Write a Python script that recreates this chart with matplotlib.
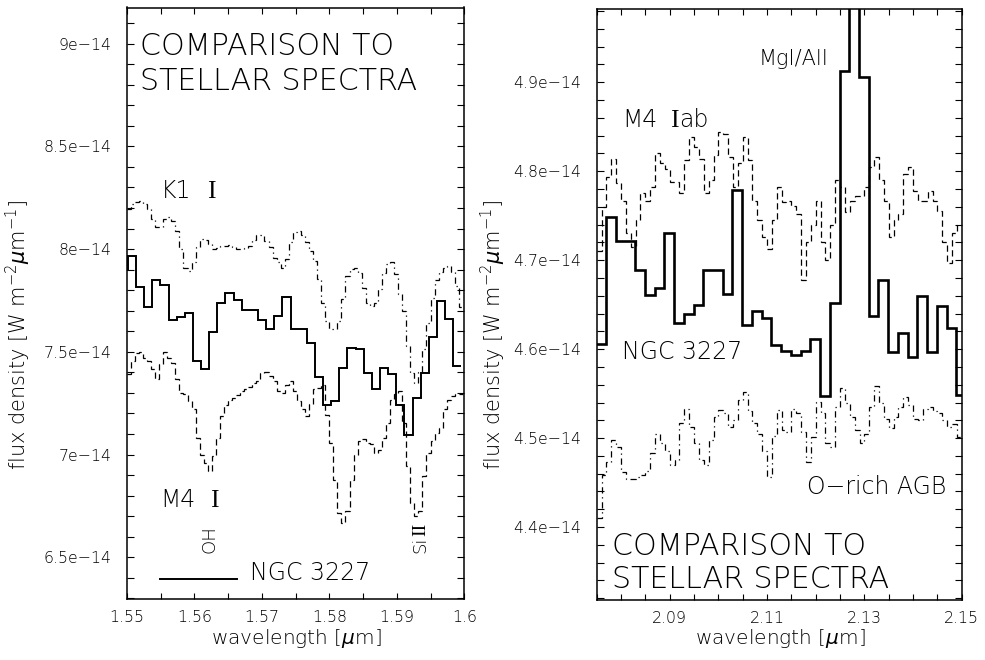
import numpy as np
import matplotlib
matplotlib.use('Agg')
import matplotlib.pyplot as plt
from matplotlib.ticker import FixedLocator, FixedFormatter, MultipleLocator
from matplotlib.lines import Line2D

plt.rcParams['font.family'] = ['DejaVu Sans']
plt.rcParams['font.weight'] = 'light'
plt.rcParams['mathtext.fontset'] = 'custom'
plt.rcParams['mathtext.rm'] = 'DejaVu Sans:light'
plt.rcParams['mathtext.it'] = 'DejaVu Sans:italic:light'
plt.rcParams['mathtext.sf'] = 'DejaVu Sans:light'

UNIT = 1e-14

# ---------------- left panel (H band) ----------------
wl_left_ngc = [1.54956, 1.55076, 1.55197, 1.55317, 1.55438, 1.55558, 1.55679, 1.55799, 1.55920, 1.56040,
               1.56161, 1.56281, 1.56402, 1.56522, 1.56643, 1.56763, 1.56884, 1.57004, 1.57125, 1.57245,
               1.57366, 1.57486, 1.57607, 1.57727, 1.57848, 1.57968, 1.58089, 1.58209, 1.58330, 1.58450,
               1.58571, 1.58691, 1.58812, 1.58932, 1.59053, 1.59173, 1.59294, 1.59414, 1.59535, 1.59655,
               1.59776, 1.59896]
ngc_left = [7.900, 7.967, 7.818, 7.720, 7.849, 7.824, 7.655, 7.672, 7.688, 7.455,
            7.415, 7.597, 7.740, 7.785, 7.753, 7.704, 7.704, 7.655, 7.610, 7.675,
            7.767, 7.610, 7.610, 7.545, 7.377, 7.239, 7.263, 7.423, 7.520, 7.512,
            7.398, 7.317, 7.423, 7.390, 7.240, 7.093, 7.277, 7.395, 7.574, 7.748,
            7.662, 7.431]

wl_left_cmp = [1.5503, 1.5509, 1.5515, 1.5521, 1.5527, 1.5533, 1.5539, 1.5545, 1.5551, 1.5557,
               1.5563, 1.5569, 1.5575, 1.5581, 1.5587, 1.5593, 1.5599, 1.5605, 1.5611, 1.5617,
               1.5623, 1.5629, 1.5635, 1.5641, 1.5647, 1.5653, 1.5659, 1.5665, 1.5671, 1.5677,
               1.5683, 1.5689, 1.5695, 1.5701, 1.5707, 1.5713, 1.5719, 1.5725, 1.5731, 1.5737,
               1.5743, 1.5749, 1.5755, 1.5761, 1.5767, 1.5773, 1.5779, 1.5785, 1.5791, 1.5797,
               1.5803, 1.5809, 1.5815, 1.5821, 1.5827, 1.5833, 1.5839, 1.5845, 1.5851, 1.5857,
               1.5863, 1.5869, 1.5875, 1.5881, 1.5887, 1.5893, 1.5899, 1.5905, 1.5911, 1.5917,
               1.5923, 1.5929, 1.5935, 1.5941, 1.5947, 1.5953, 1.5959, 1.5965, 1.5971, 1.5977,
               1.5983, 1.5989, 1.5995]
m4_I = [7.390, 7.455, 7.496, 7.499, 7.472, 7.455, 7.415, 7.366, 7.439, 7.499,
        7.472, 7.447, 7.366, 7.301, 7.293, 7.260, 7.220, 7.081, 7.000, 6.959,
        6.918, 6.992, 7.081, 7.187, 7.239, 7.268, 7.276, 7.288, 7.309, 7.320,
        7.330, 7.350, 7.358, 7.398, 7.401, 7.382, 7.358, 7.309, 7.301, 7.341,
        7.358, 7.309, 7.260, 7.220, 7.187, 7.244, 7.317, 7.325, 7.341, 7.195,
        7.057, 6.878, 6.715, 6.667, 6.723, 6.878, 7.000, 7.065, 7.076, 7.057,
        7.049, 7.008, 7.024, 7.081, 7.154, 7.268, 7.293, 7.309, 7.154, 6.943,
        6.764, 6.699, 6.723, 6.894, 7.008, 7.065, 7.106, 7.130, 7.220, 7.268,
        7.285, 7.293, 7.293]
k1_I = [8.195, 8.220, 8.228, 8.236, 8.220, 8.195, 8.146, 8.110, 8.110, 8.146,
        8.154, 8.138, 8.089, 8.000, 7.910, 7.894, 7.935, 8.008, 8.049, 8.046,
        8.024, 8.000, 8.003, 8.016, 8.016, 8.020, 8.008, 8.000, 8.000, 8.003,
        8.016, 8.046, 8.068, 8.068, 8.041, 8.008, 7.959, 7.935, 7.910, 7.951,
        8.033, 8.081, 8.089, 8.068, 8.033, 7.992, 7.943, 7.854, 7.740, 7.650,
        7.610, 7.610, 7.650, 7.756, 7.870, 7.902, 7.910, 7.886, 7.813, 7.740,
        7.724, 7.740, 7.805, 7.886, 7.927, 7.938, 7.878, 7.780, 7.700, 7.528,
        7.398, 7.350, 7.400, 7.512, 7.642, 7.760, 7.850, 7.890, 7.910, 7.919,
        7.890, 7.820, 7.720]

left_xlim = (1.55, 1.60)
left_ylim = (6.297, 9.176)
left_xticks = [1.55, 1.56, 1.57, 1.58, 1.59, 1.60]
left_xticklabels = ['1.55', '1.56', '1.57', '1.58', '1.59', '1.6']
left_yticks = [6.5, 7.0, 7.5, 8.0, 8.5, 9.0]
left_yticklabels = ['6.5e\u221214', '7e\u221214', '7.5e\u221214', '8e\u221214', '8.5e\u221214', '9e\u221214']

# ---------------- right panel (K band) ----------------
wl_right_ngc = [2.0759, 2.0779, 2.0799, 2.0819, 2.0839, 2.0859, 2.0879, 2.0899, 2.0919, 2.0939,
                2.0959, 2.0979, 2.0999, 2.1019, 2.1039, 2.1059, 2.1079, 2.1099, 2.1119, 2.1139,
                2.1159, 2.1179, 2.1199, 2.1219, 2.1239, 2.1259, 2.1279, 2.1299, 2.1319, 2.1339,
                2.1359, 2.1379, 2.1399, 2.1419, 2.1439, 2.1459, 2.1479, 2.1499]
ngc_right = [4.606, 4.749, 4.721, 4.721, 4.689, 4.661, 4.669, 4.731, 4.629, 4.639,
             4.650, 4.689, 4.689, 4.662, 4.779, 4.627, 4.643, 4.635, 4.605, 4.598,
             4.593, 4.598, 4.611, 4.547, 4.652, 4.913, 5.050, 4.906, 4.637, 4.678,
             4.597, 4.618, 4.591, 4.660, 4.597, 4.648, 4.624, 4.548]

wl_right_cmp = [2.0755, 2.0765, 2.0775, 2.0785, 2.0795, 2.0805, 2.0815, 2.0825, 2.0835, 2.0845,
                2.0855, 2.0865, 2.0875, 2.0885, 2.0895, 2.0905, 2.0915, 2.0925, 2.0935, 2.0945,
                2.0955, 2.0965, 2.0975, 2.0985, 2.0995, 2.1005, 2.1015, 2.1025, 2.1035, 2.1045,
                2.1055, 2.1065, 2.1075, 2.1085, 2.1095, 2.1105, 2.1115, 2.1125, 2.1135, 2.1145,
                2.1155, 2.1165, 2.1175, 2.1185, 2.1195, 2.1205, 2.1215, 2.1225, 2.1235, 2.1245,
                2.1255, 2.1265, 2.1275, 2.1285, 2.1295, 2.1305, 2.1315, 2.1325, 2.1335, 2.1345,
                2.1355, 2.1365, 2.1375, 2.1385, 2.1395, 2.1405, 2.1415, 2.1425, 2.1435, 2.1445,
                2.1455, 2.1465, 2.1475, 2.1485, 2.1495]
m4_Iab = [4.710, 4.760, 4.794, 4.814, 4.787, 4.767, 4.730, 4.715, 4.745, 4.775,
          4.767, 4.782, 4.820, 4.809, 4.803, 4.788, 4.788, 4.775, 4.813, 4.838,
          4.827, 4.814, 4.775, 4.790, 4.818, 4.844, 4.842, 4.816, 4.782, 4.809,
          4.838, 4.813, 4.767, 4.745, 4.726, 4.713, 4.745, 4.782, 4.765, 4.767,
          4.761, 4.752, 4.678, 4.720, 4.740, 4.767, 4.720, 4.700, 4.740, 4.790,
          4.782, 4.754, 4.767, 4.772, 4.772, 4.782, 4.805, 4.816, 4.790, 4.767,
          4.726, 4.745, 4.752, 4.797, 4.805, 4.778, 4.767, 4.767, 4.778, 4.767,
          4.755, 4.720, 4.697, 4.730, 4.739]
o_rich_agb = [4.410, 4.458, 4.473, 4.498, 4.490, 4.462, 4.454, 4.454, 4.456, 4.458,
              4.463, 4.483, 4.505, 4.494, 4.485, 4.470, 4.475, 4.517, 4.533, 4.513,
              4.494, 4.475, 4.470, 4.498, 4.524, 4.532, 4.528, 4.513, 4.520, 4.543,
              4.552, 4.530, 4.517, 4.505, 4.486, 4.456, 4.502, 4.532, 4.509, 4.507,
              4.533, 4.528, 4.507, 4.473, 4.501, 4.541, 4.528, 4.494, 4.490, 4.535,
              4.556, 4.539, 4.524, 4.509, 4.494, 4.505, 4.535, 4.558, 4.539, 4.522,
              4.511, 4.524, 4.535, 4.546, 4.537, 4.522, 4.520, 4.533, 4.535, 4.531,
              4.528, 4.520, 4.513, 4.516, 4.501]

right_xlim = (2.075, 2.15)
right_ylim = (4.318, 4.982)
right_xticks = [2.09, 2.11, 2.13, 2.15]
right_xticklabels = ['2.09', '2.11', '2.13', '2.15']
right_yticks = [4.4, 4.5, 4.6, 4.7, 4.8, 4.9]
right_yticklabels = ['4.4e\u221214', '4.5e\u221214', '4.6e\u221214', '4.7e\u221214', '4.8e\u221214', '4.9e\u221214']


def edges_from_centers(c):
    c = np.asarray(c, dtype=float)
    mids = (c[:-1] + c[1:]) / 2.0
    first = c[0] - (c[1] - c[0]) / 2.0
    last = c[-1] + (c[-1] - c[-2]) / 2.0
    return np.concatenate([[first], mids, [last]])


def hist_line(ax, wl, vals, **kw):
    ax.stairs(np.asarray(vals) * UNIT, edges_from_centers(wl), baseline=None, **kw)


W, H = 985, 660
fig = plt.figure(figsize=(W / 100, H / 100), dpi=100)
fig.patch.set_facecolor('white')

ax1 = fig.add_axes([126.8 / W, 1 - 599 / H, (464.3 - 126.8) / W, (599 - 7.5) / H])
ax2 = fig.add_axes([596.7 / W, 1 - 600 / H, 365 / W, (600 - 9.3) / H])

# left panel curves
hist_line(ax1, wl_left_cmp, k1_I, color='black', lw=0.9, linestyle=(0, (5, 3, 1, 3)))
hist_line(ax1, wl_left_cmp, m4_I, color='black', lw=0.9, linestyle=(0, (5, 3)))
hist_line(ax1, wl_left_ngc, ngc_left, color='black', lw=1.4)

# right panel curves
hist_line(ax2, wl_right_cmp, m4_Iab, color='black', lw=0.9, linestyle=(0, (5, 3)))
hist_line(ax2, wl_right_cmp, o_rich_agb, color='black', lw=0.9, linestyle=(0, (5, 3, 1, 3)))
hist_line(ax2, wl_right_ngc, ngc_right, color='black', lw=1.9)

tick_fs = 11.3
for ax, xl, yl, xt, xtl, yt, ytl, xminor, yminor in [
        (ax1, left_xlim, left_ylim, left_xticks, left_xticklabels, left_yticks, left_yticklabels, 0.005, 0.1),
        (ax2, right_xlim, right_ylim, right_xticks, right_xticklabels, right_yticks, right_yticklabels, 0.005, 0.02)]:
    ax.set_xlim(*xl)
    ax.set_ylim(yl[0] * UNIT, yl[1] * UNIT)
    ax.xaxis.set_major_locator(FixedLocator(xt))
    ax.xaxis.set_major_formatter(FixedFormatter(xtl))
    ax.xaxis.set_minor_locator(MultipleLocator(xminor))
    ax.yaxis.set_major_locator(FixedLocator([v * UNIT for v in yt]))
    ax.yaxis.set_major_formatter(FixedFormatter(ytl))
    ax.yaxis.set_minor_locator(MultipleLocator(yminor * UNIT))
    ax.tick_params(which='both', direction='in', top=True, right=True, width=0.8, colors='black')
    ax.tick_params(axis='x', which='both', length=4.0, pad=8, labelsize=tick_fs)
    ax.tick_params(axis='y', which='both', length=5.0, pad=11, labelsize=tick_fs)
    for s in ax.spines.values():
        s.set_linewidth(1.1)
        s.set_color('black')

serif = dict(family='Liberation Serif', weight='normal')

# ---- text, left panel
fsT = 21.6
ax1.text(0.040, 0.9197, 'COMPARISON TO', transform=ax1.transAxes, fontsize=fsT, va='baseline', ha='left')
ax1.text(0.040, 0.8605, 'STELLAR SPECTRA', transform=ax1.transAxes, fontsize=fsT, va='baseline', ha='left')
fsL = 17
fsI = 18.5
ax1.text(0.100, 0.6774, 'K1', transform=ax1.transAxes, fontsize=fsL, va='baseline', ha='left')
ax1.text(0.2385, 0.6774, 'I', transform=ax1.transAxes, fontsize=fsI, va='baseline', ha='left', **serif)
ax1.text(0.100, 0.1560, 'M4', transform=ax1.transAxes, fontsize=fsL, va='baseline', ha='left')
ax1.text(0.2465, 0.1560, 'I', transform=ax1.transAxes, fontsize=fsI, va='baseline', ha='left', **serif)
ax1.text(0.2465, 0.1014, 'OH', transform=ax1.transAxes, fontsize=13, rotation=90, ha='center', va='center')
ax1.text(0.8836, 0.0778, 'Si', transform=ax1.transAxes, fontsize=13, rotation=90,
         ha='left', va='baseline', rotation_mode='anchor')
ax1.text(0.8836, 0.1065, 'II', transform=ax1.transAxes, fontsize=14, rotation=90,
         ha='left', va='baseline', rotation_mode='anchor', **serif)
ax1.add_line(Line2D([0.0984, 0.3256], [0.0333, 0.0333], transform=ax1.transAxes, color='black', lw=1.4))
ax1.text(0.366, 0.0321, 'NGC 3227', transform=ax1.transAxes, fontsize=fsL, va='baseline', ha='left')

# ---- text, right panel
ax2.text(0.4427, 0.9057, 'MgI/AlI', transform=ax2.transAxes, fontsize=15, va='baseline', ha='left')
ax2.text(0.0700, 0.8002, 'M4', transform=ax2.transAxes, fontsize=fsL, va='baseline', ha='left')
ax2.text(0.2008, 0.8002, 'I', transform=ax2.transAxes, fontsize=fsI, va='baseline', ha='left', **serif)
ax2.text(0.2270, 0.8002, 'ab', transform=ax2.transAxes, fontsize=fsL, va='baseline', ha='left')
ax2.text(0.0700, 0.4075, 'NGC 3227', transform=ax2.transAxes, fontsize=fsL, va='baseline', ha='left')
ax2.text(0.5770, 0.1789, 'O\u2212rich AGB', transform=ax2.transAxes, fontsize=fsL, va='baseline', ha='left')
ax2.text(0.041, 0.0762, 'COMPARISON TO', transform=ax2.transAxes, fontsize=fsT, va='baseline', ha='left')
ax2.text(0.041, 0.0198, 'STELLAR SPECTRA', transform=ax2.transAxes, fontsize=fsT, va='baseline', ha='left')

# ---- axis labels
ylab = r'flux density [W m$^{\mathsf{-2}}\mu$m$^{\mathsf{-1}}$]'
xlab = r'wavelength [$\mu$m]'
fig.text(18 / W, 1 - 335 / H, ylab, rotation=90, ha='center', va='center', fontsize=15)
fig.text(493 / W, 1 - 335 / H, ylab, rotation=90, ha='center', va='center', fontsize=15)
fig.text(296 / W, 1 - 639 / H, xlab, ha='center', va='center', fontsize=14.5)
fig.text(780 / W, 1 - 638 / H, xlab, ha='center', va='center', fontsize=14.5)

fig.savefig('out.png', dpi=100, facecolor='white')
